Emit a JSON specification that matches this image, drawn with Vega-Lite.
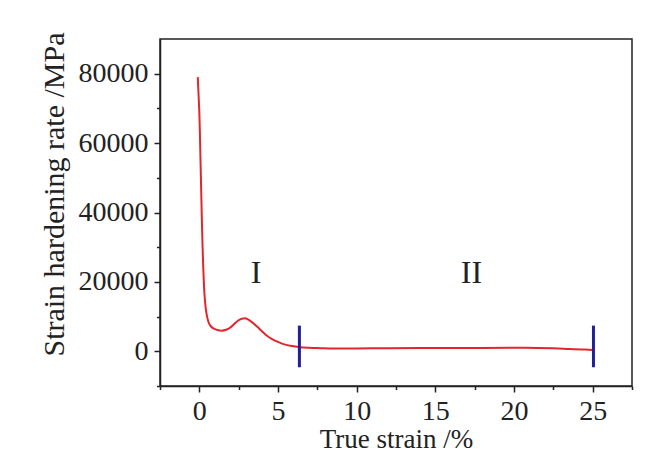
{
  "$schema": "https://vega.github.io/schema/vega-lite/v6.json",
  "width": 472,
  "height": 347,
  "padding": {"left": 160, "top": 39, "right": 20, "bottom": 69},
  "autosize": {"type": "none"},
  "background": "white",
  "config": {
    "view": {"stroke": "#222", "strokeWidth": 1.5},
    "axis": {
      "grid": false,
      "domainColor": "#222",
      "domainWidth": 1.5,
      "tickColor": "#222",
      "tickWidth": 1.5,
      "labelFont": "Liberation Serif",
      "labelColor": "#222",
      "titleFont": "Liberation Serif",
      "titleColor": "#222",
      "titleFontWeight": "normal"
    }
  },
  "datasets": {
    "curve": [
      {"strain": -0.1, "rate": 79000}, {"strain": -0.07, "rate": 76000}, {"strain": -0.03, "rate": 72000},
      {"strain": 0, "rate": 69000}, {"strain": 0.04, "rate": 62000}, {"strain": 0.08, "rate": 54000},
      {"strain": 0.12, "rate": 46000}, {"strain": 0.16, "rate": 38000}, {"strain": 0.2, "rate": 31000},
      {"strain": 0.25, "rate": 24000}, {"strain": 0.3, "rate": 18500}, {"strain": 0.36, "rate": 14500},
      {"strain": 0.45, "rate": 11000}, {"strain": 0.57, "rate": 8600}, {"strain": 0.7, "rate": 7400},
      {"strain": 0.9, "rate": 6600}, {"strain": 1.15, "rate": 6150}, {"strain": 1.42, "rate": 5950},
      {"strain": 1.7, "rate": 6200}, {"strain": 1.95, "rate": 6800}, {"strain": 2.2, "rate": 7800},
      {"strain": 2.45, "rate": 8800}, {"strain": 2.7, "rate": 9400}, {"strain": 2.9, "rate": 9500},
      {"strain": 3.12, "rate": 9100}, {"strain": 3.4, "rate": 8200}, {"strain": 3.65, "rate": 7200},
      {"strain": 4.0, "rate": 5700}, {"strain": 4.3, "rate": 4500}, {"strain": 4.6, "rate": 3600},
      {"strain": 5.0, "rate": 2700}, {"strain": 5.4, "rate": 2000}, {"strain": 5.9, "rate": 1500},
      {"strain": 6.36, "rate": 1200}, {"strain": 7.0, "rate": 1000}, {"strain": 7.7, "rate": 900},
      {"strain": 8.5, "rate": 800}, {"strain": 10, "rate": 820}, {"strain": 12, "rate": 880},
      {"strain": 14, "rate": 920}, {"strain": 16, "rate": 950}, {"strain": 18, "rate": 980},
      {"strain": 20, "rate": 1000}, {"strain": 21.5, "rate": 980}, {"strain": 22.5, "rate": 880},
      {"strain": 23.5, "rate": 680}, {"strain": 24.3, "rate": 520}, {"strain": 25, "rate": 400}
    ],
    "markers": [
      {"strain": 6.36, "low": -4600, "high": 7400},
      {"strain": 25.05, "low": -4600, "high": 7400}
    ],
    "labels": [
      {"strain": 3.6, "rate": 22500, "stage": "I"},
      {"strain": 17.3, "rate": 22500, "stage": "II"}
    ]
  },
  "resolve": {"axis": {"x": "independent", "y": "independent"}},
  "layer": [
    {
      "data": {"name": "curve"},
      "mark": {"type": "line", "color": "#e3262b", "strokeWidth": 2, "interpolate": "monotone"},
      "encoding": {
        "x": {
          "field": "strain", "type": "quantitative",
          "scale": {"domain": [-2.5, 27.5], "nice": false, "zero": false},
          "axis": {"orient": "bottom", "values": [0, 5, 10, 15, 20, 25], "tickSize": 6, "labelFontSize": 28, "labelPadding": 5, "title": "True strain /%", "titleFontSize": 27, "titlePadding": 1}
        },
        "y": {
          "field": "rate", "type": "quantitative",
          "scale": {"domain": [-10000, 90000], "nice": false, "zero": false},
          "axis": {"orient": "left", "values": [0, 20000, 40000, 60000, 80000], "format": "d", "tickSize": 6, "labelFontSize": 28, "labelPadding": 6, "title": "Strain hardening rate /MPa", "titleFontSize": 30, "titlePadding": 9, "titleY": 155}
        }
      }
    },
    {
      "data": {"name": "markers"},
      "mark": {"type": "rule", "color": "#1f1f99", "strokeWidth": 3},
      "encoding": {
        "x": {
          "field": "strain", "type": "quantitative",
          "axis": {"orient": "bottom", "values": [-2.5, 2.5, 7.5, 12.5, 17.5, 22.5, 27.5], "tickSize": 3.5, "labels": false, "domain": false, "title": null}
        },
        "y": {
          "field": "low", "type": "quantitative",
          "axis": {"orient": "left", "values": [-10000, 10000, 30000, 50000, 70000], "tickSize": 3.5, "labels": false, "domain": false, "title": null}
        },
        "y2": {"field": "high"}
      }
    },
    {
      "data": {"name": "labels"},
      "mark": {"type": "text", "font": "Liberation Serif", "fontSize": 32, "color": "#222", "baseline": "middle", "align": "center"},
      "encoding": {
        "x": {"field": "strain", "type": "quantitative", "axis": null},
        "y": {"field": "rate", "type": "quantitative", "axis": null},
        "text": {"field": "stage"}
      }
    }
  ]
}
